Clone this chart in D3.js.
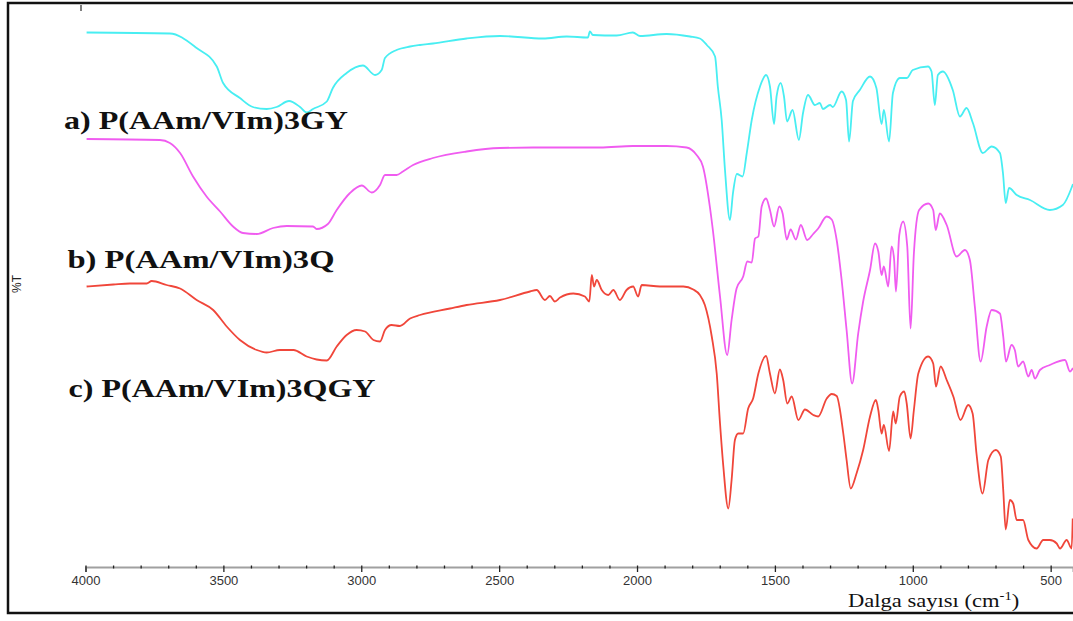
<!DOCTYPE html>
<meta charset="utf-8">
<script src="https://d3js.org/d3.v7.min.js"></script>
<style>
  body { margin: 0; background: #fff; }
  svg { display: block; }
</style>
<body>
<div id="chart"></div>
<script>

// wavenumber (cm-1), %T (arbitrary offset units)
var waveA = [3996,3694,3597,3524,3501,3440,3393,3343,3307,3262,3222,3198,3175,3125,3103,3053,2994,2950,2926,2914,2872,2823,2787,2740,2618,2497,2341,2255,2178,2171,2160,2074,2015,1989,1893,1808,1772,1747,1717,1707,1693,1681,1663,1652,1638,1617,1602,1584,1554,1532,1518,1503,1494,1479,1467,1456,1436,1413,1398,1380,1355,1337,1326,1300,1290,1258,1242,1231,1217,1192,1155,1132,1113,1105,1086,1072,1047,1021,1000,945,932,920,909,891,855,829,805,782,746,714,684,673,663,651,623,575,503,456,419];
var valA = [108.5,108.3,105.4,101.7,98.4,95.4,93.6,93.2,93.6,94.8,93.6,92.5,93.2,94.7,97.4,100.4,101.9,100,101,103.4,105,105.7,106,106.3,107.3,107.8,107.3,107.7,107.5,108.7,108,107.9,108.5,107.8,108.2,107.7,107.3,106,103.7,97.7,91,81,71,76.4,80.2,79.7,84.4,91,97.7,100,97.7,90.2,95.7,98.4,95.7,90.7,93,87,92.4,96,94,94.4,93.2,94,93.6,96.7,95,86.7,94.8,97,99.7,97.4,90.2,93,86.7,96.4,99.4,99.4,101,101.7,100.7,94,100,100.7,97,91.7,93.4,90.4,84.4,85.7,84.4,80.4,74.4,77.4,76,75,73,74,78.2];

var waveB = [3996,3730,3694,3657,3610,3561,3512,3465,3429,3379,3320,3270,3175,3162,3121,3089,3041,2998,2962,2932,2914,2872,2849,2812,2740,2618,2497,2377,2255,2134,2015,1893,1820,1784,1761,1736,1725,1699,1673,1657,1639,1615,1600,1584,1572,1560,1548,1532,1518,1503,1484,1472,1457,1443,1424,1406,1383,1361,1343,1312,1294,1276,1258,1240,1220,1198,1180,1155,1137,1125,1113,1105,1089,1077,1068,1061,1049,1035,1020,1008,996,977,944,926,917,902,877,841,811,793,775,754,732,714,684,672,662,642,630,618,600,581,569,557,539,503,448,430,419];
var valB = [87.2,87,86.4,84.4,79.7,75.7,72.7,69.7,68.4,68.2,69.4,69.8,69.7,69.2,70.2,73,76.4,77.9,76.5,78,80,80,80.7,82,83.4,84.7,85.4,85.5,85.5,85.5,85.8,85.8,85.5,84,81.7,73.7,69,55.7,44,51,57.3,59.7,62.7,62.5,67.3,67.7,73.7,75.3,73,69.7,73.7,72.3,67.1,69.1,67.1,70,67,68.2,69.3,71.7,71.1,67,59,49,38.3,48.3,54.7,61,66.3,64.7,60,61.7,57.7,65.7,63.3,56.7,68,70.7,65.7,49.3,64.3,73,74.3,73,69,72.3,70,63.7,65,63,53.7,42.7,49.7,53,52.3,47.7,42.7,46,45,41.7,42.7,39.7,41,39.3,41,42,43,40.7,41.4];

var waveC = [3996,3899,3839,3778,3760,3706,3657,3597,3537,3488,3440,3379,3343,3295,3246,3198,3162,3125,3089,3053,3017,2986,2956,2932,2914,2890,2860,2823,2787,2678,2618,2497,2388,2364,2334,2316,2298,2279,2231,2189,2173,2164,2156,2146,2128,2104,2086,2062,2038,2014,1996,1983,1917,1832,1796,1772,1754,1729,1711,1699,1687,1669,1657,1645,1633,1615,1597,1579,1560,1532,1518,1500,1482,1470,1455,1439,1415,1391,1361,1343,1312,1294,1276,1252,1240,1225,1204,1180,1155,1134,1125,1113,1105,1086,1071,1062,1047,1031,1022,1008,996,980,944,926,916,899,877,853,827,799,783,769,747,726,699,681,672,663,648,636,623,600,581,551,527,503,478,466,442,424,420];
var valC = [57.7,58.1,58.3,58.3,58.8,58,57.3,55,53,49.7,47,45,44.5,45,45,43.7,43.1,42.9,45.7,48,49,48.7,47,46.7,49,50,49.8,51.3,52,53.3,54,55,56.7,57,55,55.8,54.7,55.5,56.3,55.7,54.7,60,57.7,59,57,56,57,55,57,57.7,55.7,58,57.7,57.7,57.1,56,54,47.7,40.3,30.3,21.7,13.3,19,27,28.3,28.3,33.3,35.3,40.3,43.8,40.3,36.3,41.1,39,34.3,35.7,31,33.1,32,31.7,35.3,36.2,35.8,28.3,23,17.3,20.3,25,31.7,35,33,28.3,30,24.8,32.7,30.3,35.7,36.7,34.3,27.3,33,40.3,43.7,42.3,37.7,41.7,39,35.7,31,34,32.3,24.3,16.3,23,25,23.7,17,9.1,15,14.3,11,11,7,5.3,7,7,6.3,5.3,7,5.3,11.3];

var majorTicks = [4000,3500,3000,2500,2000,1500,1000,500];
var minorTicks = d3.range(3900, 419, -100).filter(function(v) { return v % 500 !== 0; });

var seriesNames = ["a) P(AAm/VIm)3GY", "b) P(AAm/VIm)3Q", "c) P(AAm/VIm)3QGY"];
var seriesColors = ["#48eef2", "#f05cf0", "#f0463a"];

var W = 1073, H = 621;

var svg = d3.select("#chart").append("svg")
  .attr("width", W)
  .attr("height", H);

var x = d3.scaleLinear().domain([4000, 419]).range([85.5, 1073]);
var y = d3.scaleLinear().domain([0, 110]).range([575, 25]);

// outer frame
svg.append("rect")
  .attr("x", 8).attr("y", 3)
  .attr("width", 1100).attr("height", 610)
  .attr("fill", "none")
  .attr("stroke", "#111")
  .attr("stroke-width", 2.5);

// small mark on top
svg.append("line")
  .attr("x1", 81).attr("x2", 81)
  .attr("y1", 5).attr("y2", 11)
  .attr("stroke", "#555")
  .attr("stroke-width", 1.5);

// %T
svg.append("text")
  .attr("transform", "translate(21,284) rotate(-90)")
  .attr("text-anchor", "middle")
  .style("font-family", "Liberation Sans, Arial, sans-serif")
  .style("font-size", "12px")
  .attr("fill", "#222")
  .text("%T");

// spectra
var line = d3.line()
  .x(function(d) { return x(d[0]); })
  .y(function(d) { return y(d[1]); })
  .curve(d3.curveMonotoneX);

var series = [
  d3.zip(waveA, valA),
  d3.zip(waveB, valB),
  d3.zip(waveC, valC)
];

svg.selectAll(".spec")
  .data(series)
  .enter()
  .append("path")
    .attr("class", "spec")
    .attr("d", line)
    .attr("fill", "none")
    .attr("stroke", function(d, i) { return seriesColors[i]; })
    .attr("stroke-width", 1.8)
    .attr("stroke-linejoin", "round");

// series labels
var labelPos = [
  { x: 64, y: 129, len: 284 },
  { x: 67.5, y: 268, len: 267 },
  { x: 68.5, y: 397, len: 307 }
];
svg.selectAll(".lbl")
  .data(seriesNames)
  .enter()
  .append("text")
    .attr("class", "lbl")
    .attr("x", function(d, i) { return labelPos[i].x; })
    .attr("y", function(d, i) { return labelPos[i].y; })
    .attr("textLength", function(d, i) { return labelPos[i].len; })
    .attr("lengthAdjust", "spacingAndGlyphs")
    .style("font-family", "Liberation Serif, Times New Roman, serif")
    .style("font-weight", "bold")
    .style("font-size", "25px")
    .attr("fill", "#111")
    .text(function(d) { return d; });

// x axis
var axisG = svg.append("g")
  .attr("transform", "translate(0,567)")
  .call(d3.axisBottom(x).tickValues(majorTicks).tickFormat(d3.format("d"))
    .tickSizeOuter(0).tickSize(5).tickPadding(4));
axisG.select(".domain").attr("stroke", "#a0a0a0").attr("stroke-width", 2);
axisG.selectAll(".tick line").attr("y1", -1.5).attr("stroke", "#222").attr("stroke-width", 1.3);
axisG.selectAll(".tick text")
  .style("font-family", "Liberation Sans, Arial, sans-serif")
  .style("font-size", "13px")
  .attr("fill", "#333");

var minorG = svg.append("g")
  .attr("transform", "translate(0,565.5)")
  .call(d3.axisBottom(x).tickValues(minorTicks).tickSize(3).tickFormat(""));
minorG.select(".domain").remove();
minorG.selectAll(".tick line").attr("stroke", "#222").attr("stroke-width", 1.3);

// x axis title
var xt = svg.append("text")
  .attr("transform", "translate(848,607) scale(1.22,1)")
  .style("font-family", "Liberation Serif, Times New Roman, serif")
  .style("font-size", "18.5px")
  .attr("fill", "#111");
xt.append("tspan").text("Dalga sayısı (cm");
xt.append("tspan").attr("dy", -7).style("font-size", "12px").text("-1");
xt.append("tspan").attr("dy", 7).text(")");

</script>
</body>
